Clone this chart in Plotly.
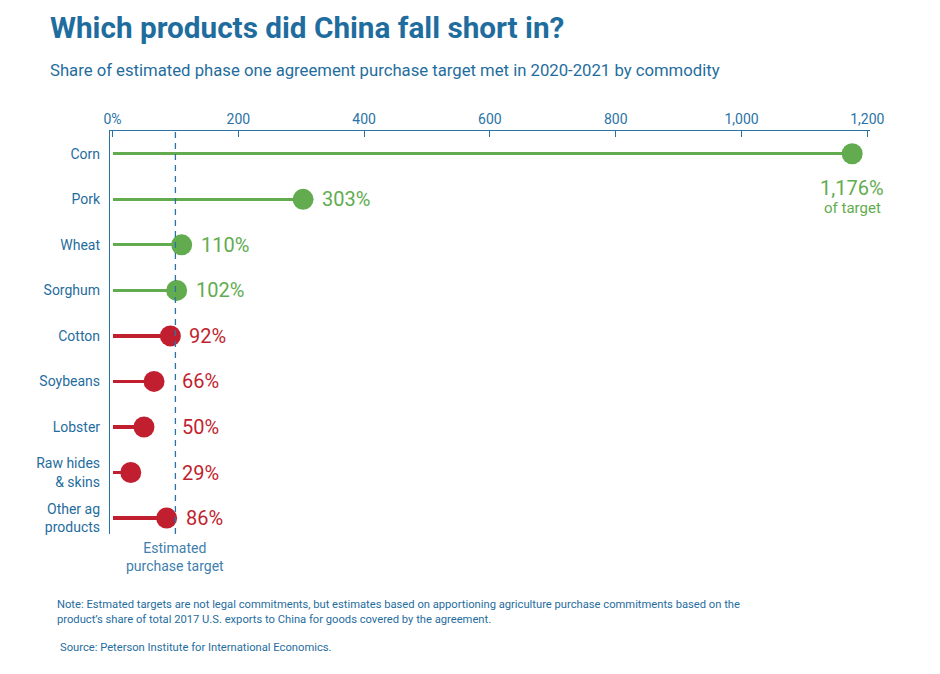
import plotly.graph_objects as go

categories = ["Corn", "Pork", "Wheat", "Sorghum", "Cotton", "Soybeans", "Lobster",
              "Raw hides<br>& skins", "Other ag<br>products"]
share_met = [1176, 303, 110, 102, 92, 66, 50, 29, 86]
value_labels = ["1,176%", "303%", "110%", "102%", "92%", "66%", "50%", "29%", "86%"]
tick_vals = [0, 200, 400, 600, 800, 1000, 1200]
tick_text = ["0%", "200", "400", "600", "800", "1,000", "1,200"]
target = 100

GREEN = "#62ac4f"
RED = "#c11f2f"
BLUE = "#1f6d9e"
AXIS = "#2a73a6"
FONT = "Roboto, 'Liberation Sans', sans-serif"

colors = [GREEN if v >= target else RED for v in share_met]

fig = go.Figure()
fig.add_trace(go.Bar(
    y=categories, x=share_met, orientation="h", width=0.07,
    marker=dict(color=colors, line=dict(width=0)), hoverinfo="skip", showlegend=False,
))
fig.add_trace(go.Scatter(
    y=categories, x=share_met, mode="markers",
    marker=dict(size=21, color=colors, line=dict(width=0)), showlegend=False,
))

fig.add_shape(type="line", xref="x", yref="paper", x0=target, x1=target, y0=0, y1=1,
              line=dict(color=AXIS, width=1.3, dash="6px,5px"))

# value labels
for cat, v, lab, c in zip(categories, share_met, value_labels, colors):
    if v == max(share_met):
        fig.add_annotation(x=v, y=cat, xref="x", yref="y", showarrow=False,
                           text=lab, font=dict(size=20, color=c, family=FONT),
                           xanchor="center", yanchor="middle", yshift=-34)
        fig.add_annotation(x=v, y=cat, xref="x", yref="y", showarrow=False,
                           text="of target", font=dict(size=15, color=c, family=FONT),
                           xanchor="center", yanchor="middle", yshift=-54)
    else:
        fig.add_annotation(x=max(v, 80), y=cat, xref="x", yref="y", showarrow=False,
                           text=lab, font=dict(size=20, color=c, family=FONT),
                           xanchor="left", yanchor="middle", xshift=17)

fig.add_annotation(x=target, y=0, xref="x", yref="paper", showarrow=False,
                   text="Estimated<br>purchase target", font=dict(size=14, color="#3f80ad", family=FONT),
                   xanchor="center", yanchor="top", yshift=-4, align="center")

fig.update_layout(
    width=940, height=674,
    margin=dict(l=110, r=70, t=131, b=140),
    paper_bgcolor="white", plot_bgcolor="white",
    font=dict(family=FONT, color=BLUE),
    bargap=0,
    xaxis=dict(
        side="top", range=[-4, 1204.3], tickvals=tick_vals, ticktext=tick_text,
        showline=True, linecolor=AXIS, linewidth=1.3, ticks="inside", ticklen=6,
        tickcolor=AXIS, tickwidth=1.3, showgrid=False, zeroline=False,
        tickfont=dict(size=14, color=AXIS, family=FONT),
    ),
    yaxis=dict(
        type="category", range=[8.35, -0.5], showline=True, linecolor=AXIS, linewidth=1.3,
        showgrid=False, zeroline=False, ticks="", ticklabelstandoff=6,
        tickfont=dict(size=14, color=BLUE, family=FONT),
    ),
)

# header / footer text, positioned relative to the plot area
title_items = [
    ("<b>Which products did China fall short in?</b>", 48, 27, 29.7),
    ("Share of estimated phase one agreement purchase target met in 2020-2021 by commodity", 48, 70, 16.7),
    ("Note: Estmated targets are not legal commitments, but estimates based on apportioning agriculture purchase commitments based on the", 55, 604, 11.2),
    ("product’s share of total 2017 U.S. exports to China for goods covered by the agreement.", 55, 619, 11.2),
    ("Source: Peterson Institute for International Economics.", 58, 647, 11.2),
]
pl, pr, pt, pb = 110, 870, 131, 534
for text, x, y, s in title_items:
    fig.add_annotation(
        x=(x - pl) / (pr - pl), y=(pb - y) / (pb - pt), xref="paper", yref="paper",
        showarrow=False, text=text, font=dict(size=s, color=BLUE, family=FONT),
        xanchor="left", yanchor="middle", align="left",
    )

fig.write_html("out.html", config={"displayModeBar": False},
               post_script="document.body.style.margin='0px';")
